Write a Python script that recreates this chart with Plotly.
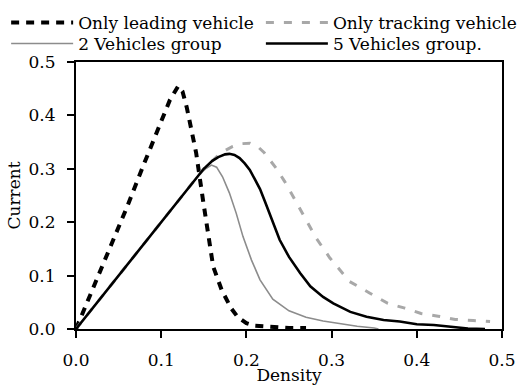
import plotly.graph_objects as go

# Only leading vehicle
lead_x = [0, 0.02, 0.04, 0.06, 0.08, 0.1, 0.11, 0.12, 0.125, 0.13, 0.135, 0.141, 0.149, 0.153,
          0.157, 0.161, 0.171, 0.182, 0.19, 0.2, 0.21, 0.225, 0.25, 0.27]
lead_y = [0, 0.075, 0.152, 0.229, 0.31, 0.39, 0.428, 0.455, 0.445, 0.415, 0.378, 0.33, 0.242, 0.2,
          0.161, 0.117, 0.073, 0.039, 0.022, 0.011, 0.006, 0.004, 0.002, 0.002]

# Only tracking vehicle
track_x = [0, 0.05, 0.1, 0.15, 0.17, 0.184, 0.194, 0.204, 0.213, 0.221, 0.235, 0.245, 0.257, 0.266,
           0.282, 0.298, 0.31, 0.321, 0.345, 0.366, 0.386, 0.405, 0.425, 0.445, 0.466, 0.486]
track_y = [0, 0.1, 0.2, 0.3, 0.33, 0.342, 0.347, 0.348, 0.342, 0.33, 0.301, 0.276, 0.242, 0.217,
           0.17, 0.133, 0.11, 0.089, 0.067, 0.048, 0.039, 0.029, 0.024, 0.018, 0.016, 0.014]

# 2 Vehicles group
two_x = [0, 0.05, 0.1, 0.145, 0.152, 0.159, 0.165, 0.172, 0.18, 0.188, 0.196, 0.206, 0.216, 0.231,
         0.25, 0.27, 0.29, 0.31, 0.33, 0.35, 0.355]
two_y = [0, 0.1, 0.2, 0.29, 0.3, 0.307, 0.303, 0.285, 0.255, 0.217, 0.173, 0.129, 0.092, 0.056,
         0.034, 0.022, 0.015, 0.01, 0.005, 0.002, 0.0]

# 5 Vehicles group
five_x = [0, 0.05, 0.1, 0.15, 0.16, 0.167, 0.175, 0.18, 0.186, 0.192, 0.198, 0.204, 0.21, 0.216,
          0.222, 0.228, 0.239, 0.25, 0.263, 0.275, 0.29, 0.302, 0.322, 0.341, 0.361, 0.38, 0.4,
          0.42, 0.44, 0.46, 0.48]
five_y = [0, 0.1, 0.2, 0.3, 0.315, 0.322, 0.327, 0.328, 0.326, 0.32, 0.31, 0.298, 0.28, 0.262,
          0.238, 0.212, 0.167, 0.135, 0.105, 0.08, 0.06, 0.048, 0.032, 0.023, 0.017, 0.014, 0.009,
          0.0075, 0.004, 0.001, 0.0]

tick_vals = [0.0, 0.1, 0.2, 0.3, 0.4, 0.5]
tick_text = ["0.0", "0.1", "0.2", "0.3", "0.4", "0.5"]

FONT = "DejaVu Serif"

fig = go.Figure()
fig.add_trace(go.Scatter(x=lead_x, y=lead_y, mode="lines", name="Only leading vehicle",
                         legend="legend",
                         line=dict(color="black", width=4, dash="8px,7px")))
fig.add_trace(go.Scatter(x=track_x, y=track_y, mode="lines", name="Only tracking vehicle",
                         legend="legend2",
                         line=dict(color="#a8a8a8", width=3, dash="8px,10px")))
fig.add_trace(go.Scatter(x=two_x, y=two_y, mode="lines", name="2 Vehicles group",
                         legend="legend3",
                         line=dict(color="#8c8c8c", width=1.6)))
fig.add_trace(go.Scatter(x=five_x, y=five_y, mode="lines", name="5 Vehicles group.",
                         legend="legend4",
                         line=dict(color="black", width=2.6)))

axis_common = dict(range=[0, 0.5], showgrid=False, zeroline=False, showline=True,
                   linecolor="black", linewidth=2, mirror=True, ticks="outside",
                   ticklen=7, tickwidth=2, tickcolor="black",
                   tickvals=tick_vals, ticktext=tick_text,
                   tickfont=dict(family=FONT, size=17, color="black"))

legend_common = dict(orientation="v", yanchor="top", xanchor="left",
                     itemwidth=62, tracegroupgap=0,
                     font=dict(family=FONT, size=17, color="black"),
                     bgcolor="rgba(0,0,0,0)", borderwidth=0)

row1_y = 1.2135
row2_y = 1.1348
col1_x = -0.164
col2_x = 0.434

fig.update_layout(
    width=526, height=385,
    margin=dict(l=76, r=24, t=62, b=56, autoexpand=False),
    paper_bgcolor="white", plot_bgcolor="white",
    font=dict(family=FONT, size=17, color="black"),
    xaxis=dict(**axis_common, ticklabelstandoff=8,
               title=dict(text="Density", standoff=14, font=dict(family=FONT, size=17))),
    yaxis=dict(**axis_common, ticklabelstandoff=8,
               title=dict(text="Current", standoff=4, font=dict(family=FONT, size=17))),
    legend=dict(**legend_common, x=col1_x, y=row1_y),
    legend2=dict(**legend_common, x=col2_x, y=row1_y),
    legend3=dict(**legend_common, x=col1_x, y=row2_y),
    legend4=dict(**legend_common, x=col2_x, y=row2_y),
    showlegend=True,
)

fig.write_html("out.html")
